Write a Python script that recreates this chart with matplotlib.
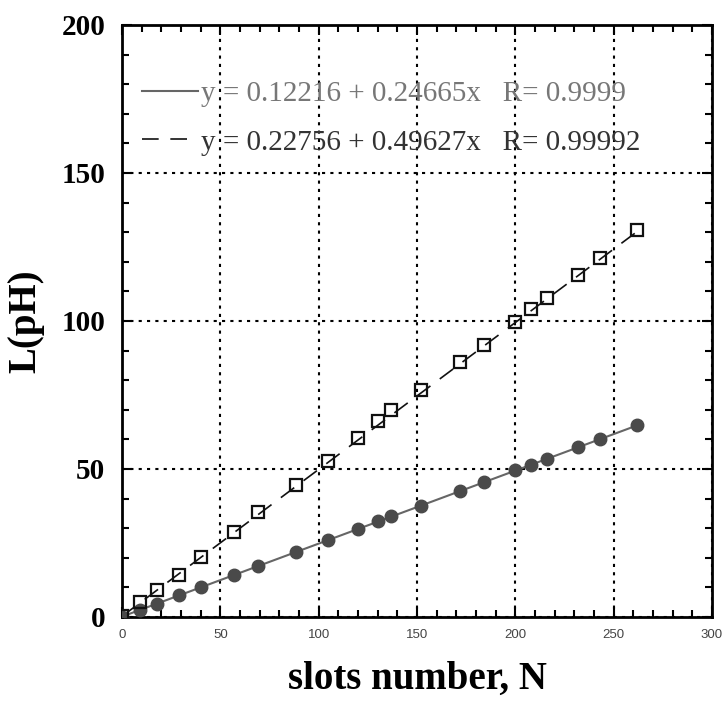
import numpy as np
import matplotlib
matplotlib.use("Agg")
import matplotlib.pyplot as plt
from matplotlib.ticker import MultipleLocator

# slot counts and measured inductances
slots = [0, 9, 18, 29, 40, 57, 69, 88.5, 105, 120, 130, 137, 152, 172, 184, 200, 208, 216, 232, 243, 262]
L_circ = [0.1, 2.3, 4.5, 7.4, 10.1, 14.3, 17.2, 22.0, 26.0, 29.7, 32.3, 34.0, 37.6, 42.5, 45.6, 49.6, 51.5, 53.5, 57.4, 60.2, 64.9]
L_sq = [0.3, 5.0, 9.1, 14.3, 20.3, 28.7, 35.3, 44.5, 52.6, 60.3, 66.1, 69.9, 76.6, 86.0, 91.8, 99.7, 104.0, 107.8, 115.5, 121.3, 130.6]

fit1 = (0.12216, 0.24665)
fit2 = (0.22756, 0.49627)
label1 = "y = 0.12216 + 0.24665x   R= 0.9999"
label2 = "y = 0.22756 + 0.49627x   R= 0.99992"

serif = ["Liberation Serif", "DejaVu Serif"]

fig = plt.figure(figsize=(7.23, 7.04), dpi=100)
ax = fig.add_axes([0.1687, 0.1236, 0.8161, 0.8409])

xs = np.array([0, slots[-1]])
l1, = ax.plot(xs, fit1[0] + fit1[1] * xs, color="#666666", lw=1.5, label=label1)
l2, = ax.plot(xs, fit2[0] + fit2[1] * xs, color="#111111", lw=1.2,
              dashes=(10, 7), label=label2)
ax.plot(slots, L_circ, "o", ms=9, color="#4a4a4a", mec="#4a4a4a", zorder=3)
ax.plot(slots, L_sq, "s", ms=8, mfc="none", mec="#111111", mew=1.6, zorder=3)

ax.set_xlim(0, 300)
ax.set_ylim(0, 200)
ax.xaxis.set_major_locator(MultipleLocator(50))
ax.xaxis.set_minor_locator(MultipleLocator(10))
ax.yaxis.set_major_locator(MultipleLocator(50))
ax.yaxis.set_minor_locator(MultipleLocator(10))
ax.grid(True, which="major", color="black", lw=1.5, linestyle=(0, (1.5, 2.5)))

ax.tick_params(which="both", direction="in", top=True, right=True, width=1.5)
ax.tick_params(which="major", length=7)
ax.tick_params(which="minor", length=5)
ax.tick_params(axis="x", labelsize=9.5, labelcolor="#444444", pad=9)
ax.tick_params(axis="y", pad=12)
for t in ax.get_xticklabels():
    t.set_family(["Liberation Sans", "DejaVu Sans"])
for t in ax.get_yticklabels():
    t.set_family(serif)
    t.set_fontweight("bold")
    t.set_fontsize(21)
for s in ax.spines.values():
    s.set_linewidth(2)

ax.set_xlabel("slots number, N", family=serif, fontweight="bold", fontsize=28, labelpad=14)
ax.set_ylabel("L(pH)", family=serif, fontweight="bold", fontsize=28, labelpad=12)

leg = ax.legend(handles=[l1, l2], loc="upper left", bbox_to_anchor=(0.0, 0.94),
                frameon=False, prop={"family": serif, "size": 21},
                handlelength=1.9, handletextpad=0.1, labelspacing=0.75,
                borderaxespad=0.3)
leg.get_texts()[0].set_color("#777777")
leg.get_texts()[1].set_color("#333333")

fig.savefig("out.png", dpi=100)
